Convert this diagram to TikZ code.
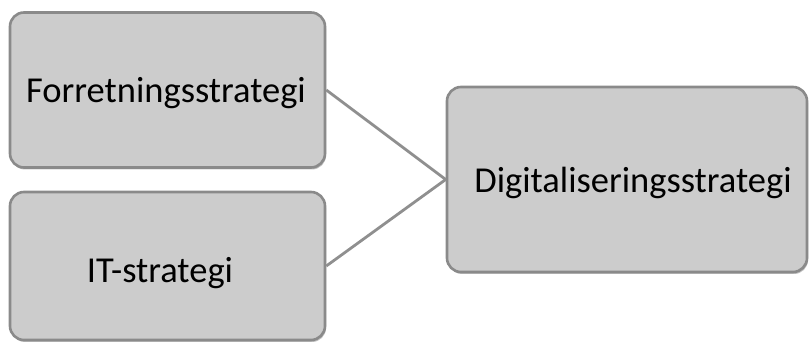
\documentclass[tikz,border=0pt]{standalone}
\usepackage{fontspec}
\setmainfont{Carlito}
\usetikzlibrary{shadows}
\begin{document}
\begin{tikzpicture}[x=1pt,y=1pt,
  box/.style={draw=boxborder, fill=boxfill, line width=2.6pt, rounded corners=14pt,
    inner sep=0pt, font=\fontsize{36.5}{42}\selectfont,
    drop shadow={shadow xshift=1pt, shadow yshift=-2pt, opacity=0.25, fill=black}},
  link/.style={draw=linkgray, line width=2.8pt}]
\definecolor{boxfill}{HTML}{CCCCCC}
\definecolor{boxborder}{HTML}{8A8A8A}
\definecolor{linkgray}{HTML}{8F8F8F}
\useasboundingbox (0,0) rectangle (811,345);
\node[box, minimum width=315pt, minimum height=155pt] (fs) at (167.5,255) {};
\node[box, minimum width=315pt, minimum height=148pt] (it) at (167.5,79) {};
\node[box, minimum width=360pt, minimum height=185pt] (ds) at (627,165.5) {};
\node[font=\fontsize{36.5}{42}\selectfont, inner sep=0pt, anchor=base] (fst) at (166,242) {Forretningsstrategi};
\node[font=\fontsize{36.5}{42}\selectfont, inner sep=0pt, anchor=base] (itt) at (160,62) {IT-strategi};
\node[font=\fontsize{36.5}{42}\selectfont, inner sep=0pt, anchor=base] (dst) at (633,152) {Digitaliseringsstrategi};
\draw[link] (fs.east) -- (ds.west);
\draw[link] (it.east) -- (ds.west);
\end{tikzpicture}
\end{document}
